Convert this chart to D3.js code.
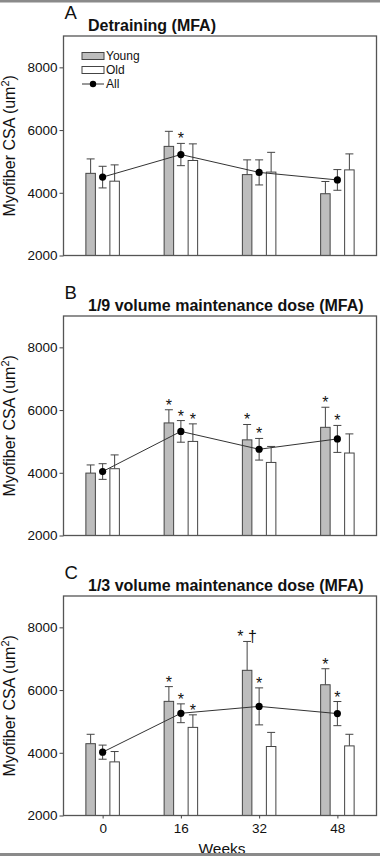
<!DOCTYPE html>
<html>
<head>
<meta charset="utf-8">
<script src="https://cdn.jsdelivr.net/npm/d3@7"></script>
<style>
  body { margin: 0; background: #fff; }
  text { font-family: "Liberation Sans", Arial, sans-serif; fill: #111; }
</style>
</head>
<body>
<svg id="chart" width="380" height="856"></svg>
<script>
// weeks of the study
const weeks = [0, 16, 32, 48];
const yTicks = [2000, 4000, 6000, 8000];

const panelLetters = ['A', 'B', 'C'];
const panelTitles = ['Detraining (MFA)', '1/9 volume maintenance dose (MFA)', '1/3 volume maintenance dose (MFA)'];
const legendItems = ['Young', 'Old', 'All'];

// panel A
const youngA = [4620, 5480, 4580, 3970];
const youngErrA = [460, 480, 470, 390];
const oldA = [4370, 5030, 4660, 4730];
const oldErrA = [520, 530, 630, 510];
const allA = [4500, 5220, 4650, 4410];
const allErrA = [345, 355, 400, 330];
const marksA = [['all', 1, '*']];

// panel B
const youngB = [3990, 5590, 5050, 5450];
const youngErrB = [260, 420, 490, 640];
const oldB = [4130, 5000, 4330, 4630];
const oldErrB = [440, 560, 510, 610];
const allB = [4040, 5320, 4750, 5080];
const allErrB = [250, 345, 345, 430];
const marksB = [['young', 1, '*'], ['all', 1, '*'], ['old', 1, '*'],
                ['young', 2, '*'], ['all', 2, '*'],
                ['young', 3, '*'], ['all', 3, '*']];

// panel C
const youngC = [4290, 5640, 6630, 6170];
const youngErrC = [300, 470, 920, 510];
const oldC = [3710, 4810, 4200, 4220];
const oldErrC = [330, 400, 450, 370];
const allC = [4020, 5260, 5480, 5250];
const allErrC = [225, 300, 590, 385];
const marksC = [['young', 1, '*'], ['all', 1, '*'], ['old', 1, '*'],
                ['young', 2, '* \u2020'], ['all', 2, '*'],
                ['young', 3, '*'], ['all', 3, '*']];

const panels = [
  { young: youngA, youngErr: youngErrA, old: oldA, oldErr: oldErrA, all: allA, allErr: allErrA, marks: marksA },
  { young: youngB, youngErr: youngErrB, old: oldB, oldErr: oldErrB, all: allB, allErr: allErrB, marks: marksB },
  { young: youngC, youngErr: youngErrC, old: oldC, oldErr: oldErrC, all: allC, allErr: allErrC, marks: marksC }
];

const svg = d3.select('#chart');
const panelH = 280;
const barW = 9.5;
const barOff = 12;
const cap = 4;

const x = d3.scaleLinear().domain([-8, 56]).range([63.5, 376.5]);
const y = d3.scaleLinear().domain([2000, 9000]).range([255.5, 36]);

// figure border line (top)
svg.append('rect').attr('x', 0).attr('y', 0).attr('width', 380).attr('height', 2.5).attr('fill', '#8a8a8a');

const seriesX = {
  young: w => x(w) - barOff,
  all: w => x(w),
  old: w => x(w) + barOff
};

panels.forEach((p, pi) => {
  const g = svg.append('g').attr('transform', `translate(0, ${pi * panelH})`);

  g.append('text')
    .attr('x', 64.5).attr('y', 18.5)
    .attr('font-size', '18.5px')
    .text(panelLetters[pi]);

  g.append('text')
    .attr('x', 88).attr('y', 30.5)
    .attr('font-size', '16px')
    .attr('font-weight', 'bold')
    .text(panelTitles[pi]);

  // y axis
  const yAxis = g.append('g')
    .attr('transform', `translate(${x.range()[0]},0)`)
    .call(d3.axisLeft(y).tickValues(yTicks).tickSize(4).tickPadding(2).tickFormat(d3.format('d')));
  yAxis.select('.domain').remove();
  yAxis.selectAll('line').attr('stroke', '#444');
  yAxis.selectAll('text').attr('font-size', '13.5px').attr('font-family', '"Liberation Sans", Arial, sans-serif').attr('fill', '#111');

  const yl = g.append('text')
    .attr('transform', `translate(15,${(y.range()[0] + y.range()[1]) / 2}) rotate(-90)`)
    .attr('text-anchor', 'middle')
    .attr('font-size', '16px');
  yl.append('tspan').text('Myofiber CSA (um');
  yl.append('tspan').attr('font-size', '11px').attr('dy', -6).text('2');
  yl.append('tspan').attr('dy', 6).text(')');

  // bars
  const bars = [
    { key: 'young', vals: p.young, errs: p.youngErr, fill: '#bdbdbd' },
    { key: 'old', vals: p.old, errs: p.oldErr, fill: '#fff' }
  ];
  bars.forEach(s => {
    const bg = g.append('g');
    bg.selectAll('line.err')
      .data(weeks)
      .join('line')
      .attr('class', 'err')
      .attr('x1', w => seriesX[s.key](w)).attr('x2', w => seriesX[s.key](w))
      .attr('y1', (w, i) => y(s.vals[i])).attr('y2', (w, i) => y(s.vals[i] + s.errs[i]))
      .attr('stroke', '#444').attr('stroke-width', 1);
    bg.selectAll('line.cap')
      .data(weeks)
      .join('line')
      .attr('class', 'cap')
      .attr('x1', w => seriesX[s.key](w) - cap).attr('x2', w => seriesX[s.key](w) + cap)
      .attr('y1', (w, i) => y(s.vals[i] + s.errs[i])).attr('y2', (w, i) => y(s.vals[i] + s.errs[i]))
      .attr('stroke', '#444').attr('stroke-width', 1);
    bg.selectAll('rect')
      .data(weeks)
      .join('rect')
      .attr('x', w => seriesX[s.key](w) - barW / 2)
      .attr('width', barW)
      .attr('y', (w, i) => y(s.vals[i]))
      .attr('height', (w, i) => y(2000) - y(s.vals[i]))
      .attr('fill', s.fill)
      .attr('stroke', '#444').attr('stroke-width', 1);
  });

  // All: line, error bars, points
  const line = d3.line().x((d, i) => x(weeks[i])).y(d => y(d));
  g.append('path')
    .datum(p.all)
    .attr('d', line)
    .attr('fill', 'none')
    .attr('stroke', '#333').attr('stroke-width', 1);

  const ag = g.append('g');
  ag.selectAll('line.err')
    .data(weeks)
    .join('line')
    .attr('class', 'err')
    .attr('x1', w => x(w)).attr('x2', w => x(w))
    .attr('y1', (w, i) => y(p.all[i] - p.allErr[i])).attr('y2', (w, i) => y(p.all[i] + p.allErr[i]))
    .attr('stroke', '#444').attr('stroke-width', 1);
  [1, -1].forEach(sgn => {
    ag.selectAll(`line.cap${sgn > 0 ? 'u' : 'd'}`)
      .data(weeks)
      .join('line')
      .attr('class', `cap${sgn > 0 ? 'u' : 'd'}`)
      .attr('x1', w => x(w) - cap).attr('x2', w => x(w) + cap)
      .attr('y1', (w, i) => y(p.all[i] + sgn * p.allErr[i])).attr('y2', (w, i) => y(p.all[i] + sgn * p.allErr[i]))
      .attr('stroke', '#444').attr('stroke-width', 1);
  });
  ag.selectAll('circle')
    .data(weeks)
    .join('circle')
    .attr('cx', w => x(w)).attr('cy', (w, i) => y(p.all[i]))
    .attr('r', 3.6)
    .attr('fill', '#000');

  // significance marks
  const topOf = {
    young: i => p.young[i] + p.youngErr[i],
    old: i => p.old[i] + p.oldErr[i],
    all: i => p.all[i] + p.allErr[i]
  };
  g.selectAll('text.mark')
    .data(p.marks)
    .join('text')
    .attr('class', 'mark')
    .attr('x', d => seriesX[d[0]](weeks[d[1]]))
    .attr('y', d => y(topOf[d[0]](d[1])) + 1)
    .attr('text-anchor', 'middle')
    .attr('font-size', '16px')
    .text(d => d[2]);

  // plot frame
  g.append('rect')
    .attr('x', x.range()[0]).attr('y', y.range()[1])
    .attr('width', x.range()[1] - x.range()[0])
    .attr('height', y.range()[0] - y.range()[1])
    .attr('fill', 'none')
    .attr('stroke', '#555').attr('stroke-width', 1.3);

  if (pi === 0) {
    const lg = g.append('g');
    const legendY = [56, 70, 84];
    legendItems.forEach((name, i) => {
      if (name === 'All') {
        lg.append('line').attr('x1', 82).attr('x2', 104).attr('y1', legendY[i]).attr('y2', legendY[i])
          .attr('stroke', '#333');
        lg.append('circle').attr('cx', 93).attr('cy', legendY[i]).attr('r', 3.2).attr('fill', '#000');
      } else {
        lg.append('rect').attr('x', 82).attr('y', legendY[i] - 3.5).attr('width', 22).attr('height', 7)
          .attr('fill', name === 'Young' ? '#bdbdbd' : '#fff').attr('stroke', '#444');
      }
      lg.append('text').attr('x', 106).attr('y', legendY[i] + 4.3)
        .attr('font-size', '12px').text(name);
    });
  }

  if (pi === 2) {
    const xAxis = g.append('g')
      .attr('transform', `translate(0,${y.range()[0]})`)
      .call(d3.axisBottom(x).tickValues(weeks).tickSize(3).tickPadding(5));
    xAxis.select('.domain').remove();
    xAxis.selectAll('line').attr('stroke', '#444');
    xAxis.selectAll('text').attr('font-size', '13.5px').attr('font-family', '"Liberation Sans", Arial, sans-serif').attr('fill', '#111');

    g.append('text')
      .attr('x', 222).attr('y', 293.5)
      .attr('text-anchor', 'middle')
      .attr('font-size', '15.5px')
      .text('Weeks');
  }
});

// bottom border drawn last, over the cut-off axis label
svg.append('rect').attr('x', 0).attr('y', 853).attr('width', 380).attr('height', 3).attr('fill', '#8a8a8a');
</script>
</body>
</html>
